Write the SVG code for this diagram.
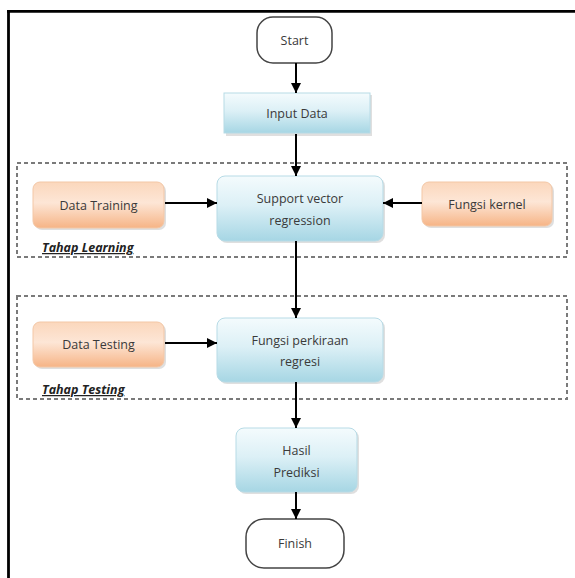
<svg xmlns="http://www.w3.org/2000/svg" width="575" height="578" viewBox="0 0 575 578">
<defs>
<linearGradient id="gBlue" x1="0" y1="0" x2="0" y2="1">
<stop offset="0" stop-color="#f4fbfd"/>
<stop offset="0.45" stop-color="#dcf0f6"/>
<stop offset="1" stop-color="#a6d6e4"/>
</linearGradient>
<linearGradient id="gOrange" x1="0" y1="0" x2="0" y2="1">
<stop offset="0" stop-color="#fbd7bc"/>
<stop offset="0.45" stop-color="#fde6d6"/>
<stop offset="1" stop-color="#f6b486"/>
</linearGradient>
<marker id="arr" viewBox="0 0 10 10" refX="10" refY="5" markerWidth="5" markerHeight="5" orient="auto" markerUnits="strokeWidth">
<path d="M0,0 L10,5 L0,10 z" fill="#000"/>
</marker>
</defs>
<style>
.blue{fill:url(#gBlue);stroke:#b7dbe6;stroke-width:1}
.orange{fill:url(#gOrange);stroke:#f3c7a6;stroke-width:1}
.term{fill:#fff;stroke:#444;stroke-width:1.5}
.shadow{fill:#c9c9c9;opacity:0.6}
.dash{fill:none;stroke:#7a7a7a;stroke-width:2;stroke-dasharray:4 3}
.lbl{font-family:"Open Sans","Liberation Sans",sans-serif;font-size:12.5px;fill:#3a3a3a;text-anchor:middle}
.stage{font-family:"Open Sans","Liberation Sans",sans-serif;font-size:12.5px;font-weight:bold;font-style:italic;fill:#222;text-decoration:underline}
.conn{stroke:#000;stroke-width:2;fill:none}
</style>
<rect x="0" y="0" width="575" height="578" fill="#fff"/>
<g id="frame">
<line x1="7" y1="11.3" x2="575" y2="11.3" stroke="#000" stroke-width="2.8"/>
<line x1="8.5" y1="10" x2="8.5" y2="578" stroke="#000" stroke-width="2.8"/>
</g>
<g id="tahap-learning">
<rect class="dash" x="17" y="163" width="550" height="94"/>
<text class="stage" x="42" y="252">Tahap Learning</text>
</g>
<g id="tahap-testing">
<rect class="dash" x="17" y="296" width="550" height="103"/>
<text class="stage" x="42" y="394">Tahap Testing</text>
</g>
<g id="start">
<rect class="term" x="257" y="17" width="75" height="46" rx="16"/>
<text class="lbl" x="294.5" y="44.5">Start</text>
</g>
<g id="input-data">
<rect class="shadow" x="226" y="95" width="146" height="41"/>
<rect class="blue" x="224" y="93" width="146" height="40"/>
<text class="lbl" x="297" y="117.5">Input Data</text>
</g>
<g id="data-training">
<rect class="shadow" x="35" y="184" width="131" height="46" rx="7"/>
<rect class="orange" x="33" y="182" width="131" height="46" rx="7"/>
<text class="lbl" x="98.5" y="209.5">Data Training</text>
</g>
<g id="svr">
<rect class="shadow" x="219" y="178" width="166" height="65" rx="8"/>
<rect class="blue" x="217" y="176" width="166" height="65" rx="8"/>
<text class="lbl" x="300" y="203">Support vector</text>
<text class="lbl" x="300" y="225">regression</text>
</g>
<g id="fungsi-kernel">
<rect class="shadow" x="424" y="184" width="130" height="44" rx="7"/>
<rect class="orange" x="422" y="182" width="130" height="44" rx="7"/>
<text class="lbl" x="487" y="208.5">Fungsi kernel</text>
</g>
<g id="data-testing">
<rect class="shadow" x="35" y="324" width="131" height="45" rx="7"/>
<rect class="orange" x="33" y="322" width="131" height="45" rx="7"/>
<text class="lbl" x="98.5" y="348.5">Data Testing</text>
</g>
<g id="fungsi-perkiraan">
<rect class="shadow" x="219" y="320" width="166" height="64" rx="8"/>
<rect class="blue" x="217" y="318" width="166" height="64" rx="8"/>
<text class="lbl" x="300" y="345">Fungsi perkiraan</text>
<text class="lbl" x="300" y="366">regresi</text>
</g>
<g id="hasil-prediksi">
<rect class="shadow" x="238" y="430" width="121" height="64" rx="8"/>
<rect class="blue" x="236" y="428" width="121" height="64" rx="8"/>
<text class="lbl" x="296.5" y="455">Hasil</text>
<text class="lbl" x="296.5" y="477">Prediksi</text>
</g>
<g id="finish">
<rect class="term" x="246" y="519" width="98" height="49" rx="18"/>
<text class="lbl" x="295" y="548">Finish</text>
</g>
<g id="connectors">
<line class="conn" x1="296" y1="63" x2="296" y2="93" marker-end="url(#arr)"/>
<line class="conn" x1="296" y1="134" x2="296" y2="176" marker-end="url(#arr)"/>
<line class="conn" x1="165" y1="203" x2="217" y2="203" marker-end="url(#arr)"/>
<line class="conn" x1="422" y1="203" x2="383" y2="203" marker-end="url(#arr)"/>
<line class="conn" x1="296" y1="241" x2="296" y2="318" marker-end="url(#arr)"/>
<line class="conn" x1="165" y1="343" x2="217" y2="343" marker-end="url(#arr)"/>
<line class="conn" x1="296" y1="382" x2="296" y2="428" marker-end="url(#arr)"/>
<line class="conn" x1="296" y1="492" x2="296" y2="519" marker-end="url(#arr)"/>
</g>
</svg>
